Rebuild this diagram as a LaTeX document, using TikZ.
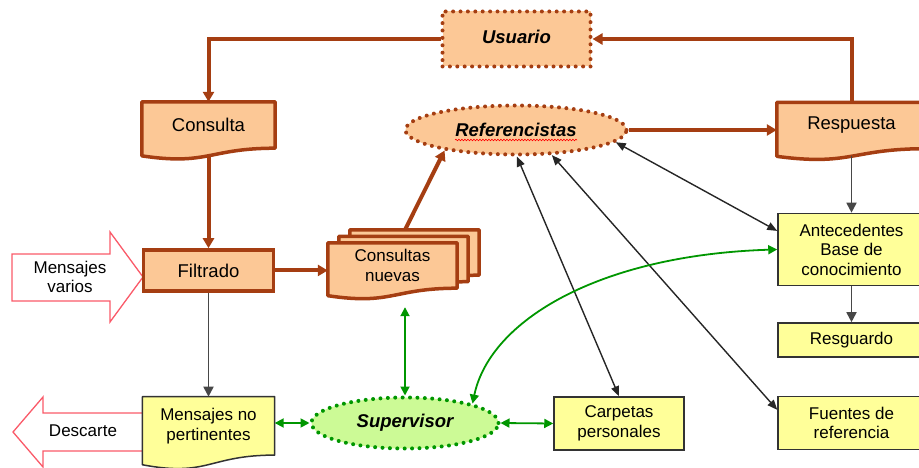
\documentclass[tikz,border=0pt]{standalone}
\usepackage{fontspec}
\setmainfont{Liberation Sans}
\usetikzlibrary{positioning,calc,arrows.meta,shapes.geometric,backgrounds,decorations.pathmorphing}
\definecolor{peach}      {RGB} {252,200,150}
\definecolor{rustbrown}  {RGB} {165,62,18}
\definecolor{paleyellow} {RGB} {255,255,153}
\definecolor{palegreen}  {RGB} {204,250,150}
\definecolor{darkgreen}  {RGB} {0,150,0}
\definecolor{pinkred}    {RGB} {250,90,105}
\newcommand{\labelbig}{\fontsize{18.5}{21}\selectfont}
\newcommand{\labelsmall}{\fontsize{17}{19.5}\selectfont}
% document outline round a node: #1 node, #2 style, #3 offset
\newcommand{\docshape}[3]{%
  \path[#2] ($(#1.north west)+(#3)$) -- ($(#1.north east)+(#3)$) -- ($(#1.south east)+(#3)$)
    .. controls ($(#1.south)+(#3)$) and ($(#1.south)!-0.38!(#1.north)+(#3)$)
    .. ($(#1.south west)!-0.165!(#1.north west)+(#3)$) -- cycle;}
\tikzset{
  browndoc/.style    = {minimum width=133pt, minimum height=46pt, inner sep=0pt, font=\labelbig},
  smalldoc/.style    = {minimum width=129pt, minimum height=45pt, inner sep=0pt, font=\labelsmall, align=center},
  docfill/.style     = {draw=rustbrown, fill=peach, line width=3.5pt, line join=round},
  yellowfill/.style  = {draw=black!80, fill=paleyellow, line width=1.5pt, line join=round},
  brownbox/.style    = {rectangle, draw=rustbrown, fill=peach, line width=3.5pt, minimum width=130pt, minimum height=41pt, font=\labelbig},
  yellowbox/.style   = {rectangle, draw=black!80, fill=paleyellow, line width=1.5pt, minimum width=147pt, inner sep=0pt, font=\labelsmall, align=center},
  dotbox/.style      = {rectangle, draw=rustbrown, fill=peach, line width=4pt, dash pattern=on 0pt off 7.4pt, line cap=round,
                        minimum width=148pt, minimum height=55pt, font=\labelbig\bfseries\itshape},
  dotoval/.style     = {ellipse, draw=rustbrown, fill=peach, line width=4pt, dash pattern=on 0pt off 7.4pt, line cap=round,
                        minimum width=221pt, minimum height=49pt, inner sep=0pt, font=\labelbig\bfseries\itshape},
  greenoval/.style   = {ellipse, draw=darkgreen, fill=palegreen, line width=4pt, dash pattern=on 0pt off 7.4pt, line cap=round,
                        minimum width=187pt, minimum height=51pt, inner sep=0pt, font=\labelbig\bfseries\itshape},
  redblock/.style    = {draw=pinkred, fill=white, line width=1.3pt},
  brownline/.style   = {draw=rustbrown, line width=4pt, -{Triangle[length=10pt,width=11pt]}},
  greyline/.style    = {draw=black!72, line width=1.8pt, -{Triangle[length=10pt,width=10pt]}},
  blackline/.style   = {draw=black!85, line width=1.4pt, {Triangle[length=10pt,width=8pt]}-{Triangle[length=10pt,width=8pt]}},
  greenline/.style   = {draw=darkgreen, line width=1.8pt, {Triangle[length=9pt,width=9pt]}-{Triangle[length=9pt,width=9pt]}},
  spellmark/.style   = {draw=red, line width=0.6pt, decorate, decoration={snake, amplitude=0.8pt, segment length=3pt}}
}

\begin{document}
\begin{tikzpicture}[x=1pt, y=-1pt]
    \useasboundingbox (0,0) rectangle (919,468);
    % left column
    \node[dotbox] (usuario) at (516.5,39) {\raisebox{4pt}{Usuario}};
    \node[browndoc] (consulta) at (208.5,125) {Consulta};
    \node[brownbox, below=100pt of consulta] (filtrado) {Filtrado};
    \node[browndoc, minimum width=132pt, minimum height=58pt, font=\labelsmall, align=center,
          below=104pt of filtrado] (pertinentes) {Mensajes no\\pertinentes};
    \node[font=\labelsmall, align=center] (varios) at (70,277) {Mensajes\\varios};
    \node[font=\labelsmall] (descarte) at (83,431) {Descarte};
    % middle
    \node[dotoval] (referencistas) at (516,130) {Referencistas};
    \node[smalldoc] (nuevas) at (392.5,265.5) {Consultas\\nuevas};
    \node[greenoval] (supervisor) at (405,423) {Supervisor};
    \node[yellowbox, minimum width=130pt, minimum height=53pt] (carpetas) at (619,423.5) {Carpetas\\personales};
    % right column
    \node[browndoc, minimum width=149pt] (respuesta) at (851.5,125.5) {Respuesta};
    \node[yellowbox, minimum height=72pt, below=64pt of respuesta] (antecedentes) {Antecedentes\\Base de\\conocimiento};
    \node[yellowbox, minimum height=34pt, below=36pt of antecedentes] (resguardo) {Resguardo};
    \node[yellowbox, minimum height=53pt, below=38pt of resguardo] (fuentes) {Fuentes de\\referencia};

    \begin{pgfonlayer}{background}
        \path[redblock] (12,254) -- (110,254) -- (110,232) -- (143,277) -- (110,322) -- (110,301) -- (12,301) -- cycle;
        \path[redblock] (13,432) -- (43,397) -- (43,413) -- (150,413) -- (150,451) -- (43,451) -- (43,467) -- cycle;
        \docshape{consulta}{docfill}{0,0}
        \docshape{respuesta}{docfill}{0,0}
        \docshape{pertinentes}{yellowfill}{0,0}
        \docshape{nuevas}{docfill}{22,-13}
        \docshape{nuevas}{docfill}{11,-6.5}
        \docshape{nuevas}{docfill}{0,0}
    \end{pgfonlayer}
    \draw[spellmark] ($(referencistas.center)+(-61,10)$) -- ($(referencistas.center)+(61,10)$);

    % main flow
    \draw[brownline] (usuario.west) -| (consulta.north);
    \draw[brownline] (respuesta.north) |- (usuario.east);
    \draw[brownline, shorten <=7pt] (consulta.south) -- (filtrado.north);
    \draw[brownline] (filtrado.east) -- (filtrado.east -| nuevas.west);
    \draw[brownline] ($(nuevas.north)+(12.5,-13)$) -- (referencistas.196);
    \draw[brownline] (referencistas.east) -- (referencistas.east -| respuesta.west);
    \draw[greyline] (filtrado.south) -- (pertinentes.north);
    \draw[greyline, shorten <=7pt] (respuesta.south) -- (antecedentes.north);
    \draw[greyline] (antecedentes.south) -- (resguardo.north);
    % referencistas sources
    \draw[blackline] (referencistas.353) -- (antecedentes.166);
    \draw[blackline] (referencistas.272) -- (carpetas.north);
    \draw[blackline] (referencistas.325) -- (fuentes.170);
    % supervisor
    \draw[greenline] (supervisor.west) -- (supervisor.west -| pertinentes.east);
    \draw[greenline] (supervisor.east) -- (carpetas.west);
    \draw[greenline, shorten >=19pt] (supervisor.north) -- (supervisor.north |- nuevas.south);
    \draw[greenline] (supervisor.north east) .. controls (490,320) and (600,255) .. (antecedentes.west);
\end{tikzpicture}
\end{document}
